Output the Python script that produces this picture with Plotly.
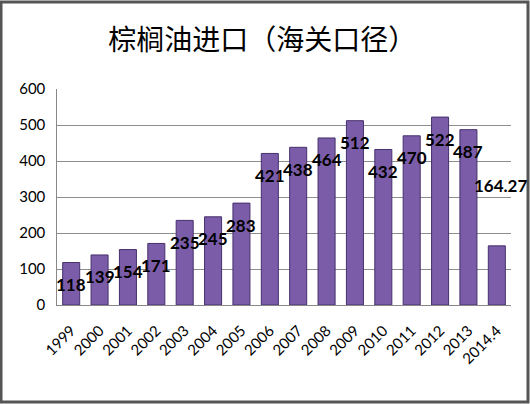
import plotly.graph_objects as go

# data
years = ["1999", "2000", "2001", "2002", "2003", "2004", "2005", "2006",
         "2007", "2008", "2009", "2010", "2011", "2012", "2013", "2014.4"]
imports = [118, 139, 154, 171, 235, 245, 283, 421,
           438, 464, 512, 432, 470, 522, 487, 164.27]
labels = ["118", "139", "154", "171", "235", "245", "283", "421",
          "438", "464", "512", "432", "470", "522", "487", "164.27"]

fig = go.Figure()

fig.add_trace(go.Bar(
    x=years, y=imports,
    marker=dict(color='#7b5ca9', line=dict(color='#46306c', width=1)),
    hoverinfo='x+y',
))

# data labels sit a bit below the bar tops (last one floats above)
# x given as category index, numeric-looking names would be read as indices anyway
for i, (v, t) in enumerate(zip(imports, labels)):
    last = i == len(years) - 1
    fig.add_annotation(
        x=i, y=v, text=t, showarrow=False,
        yshift=60 if last else -22,
        xshift=4 if last else 0,
        font=dict(family='Lato, Open Sans', size=17, color='#000000', weight='bold'),
    )

# outer frame (pixel offsets from the plot area's bottom-left corner)
fig.add_shape(type='rect', xref='paper', yref='paper',
              xsizemode='pixel', ysizemode='pixel', xanchor=0, yanchor=0,
              x0=-56, x1=471, y0=-97, y1=303,
              line=dict(color='#555555', width=3), fillcolor='rgba(0,0,0,0)')

fig.update_layout(
    width=530, height=404,
    margin=dict(l=57, r=19, t=89, b=99, autoexpand=False),
    paper_bgcolor='white', plot_bgcolor='white',
    title=dict(text='棕榈油进口（海关口径）', x=0.495, xanchor='center',
               y=0.9, yanchor='middle',
               font=dict(family='Noto Sans CJK SC', size=28, color='#000000')),
    showlegend=False,
    bargap=0.4,
    font=dict(family='Lato, Open Sans', size=15, color='#000000'),
)
fig.update_xaxes(type='category', range=[-0.5, len(years) - 0.5],
                 tickangle=-45, showline=True, linecolor='#888888',
                 showgrid=False, ticks='', tickfont=dict(size=15),
                 ticklabelstandoff=10, automargin=False)
fig.update_yaxes(range=[0, 600], dtick=100, showline=True, linecolor='#888888',
                 gridcolor='#8e8e8e', gridwidth=1, zeroline=False,
                 ticks='', tickfont=dict(size=15), ticksuffix='  ', automargin=False)

fig.write_html("out.html", config={'displayModeBar': False},
               post_script="document.body.style.margin='0';")
